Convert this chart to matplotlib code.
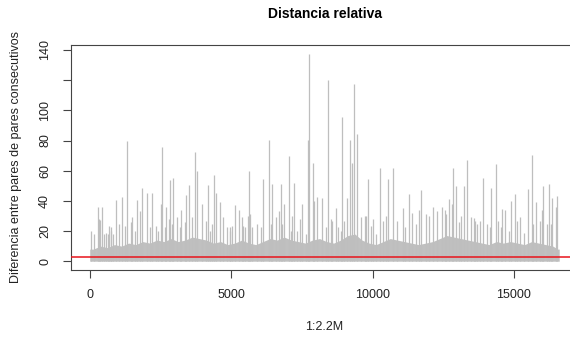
import matplotlib
matplotlib.use("Agg")
import matplotlib.pyplot as plt
import numpy as np

plt.rcParams['font.family'] = ['Liberation Sans', 'DejaVu Sans']

title = "Distancia relativa"
xlabel = "1:2.2M"
ylabel = "Diferencia entre pares de pares consecutivos"
x_ticks = [0, 5000, 10000, 15000]
y_ticks = [0, 20, 40, 60, 80, 100, 120, 140]
y_tick_labels = ["0", "20", "40", "60", "80", "100", "", "140"]
n_points = 16600
ref_level = 3.0

# dense gray band (approximate solid height), one value per 250-index bin
band_start = list(range(0, 16750, 250))
band_height = [8, 10, 9, 11, 10, 12, 11, 13, 12, 14, 13, 15, 13, 14, 16, 15,
               14, 12, 13, 11, 12, 14, 12, 11, 13, 15, 14, 16, 14, 13, 12, 14,
               15, 13, 12, 14, 17, 18, 14, 12, 11, 13, 15, 14, 13, 12, 11, 12,
               13, 15, 17, 16, 15, 14, 13, 12, 11, 13, 12, 13, 12, 11, 13, 12,
               11, 10, 8]

# individual tall spikes
spike_idx = [47, 283, 318, 365, 449, 590, 683, 742, 767, 919, 1036, 1131, 1237,
             1318, 1508, 1672, 1767, 1862, 2038, 2191, 2332, 2509, 2544, 2697,
             2804, 2827, 2945, 3099, 3240, 3417, 3510, 3629, 3735, 3805, 3983,
             4180, 4336, 4406, 4464, 4594, 4725, 4948, 4972, 5135, 5266, 5372,
             5418, 5608, 5619, 5654, 5750, 5927, 6138, 6326, 6456, 6573, 6690,
             6761, 6867, 7033, 7163, 7233, 7340, 7421, 7517, 7634, 7716, 7763,
             7893, 7927, 8050, 8200, 8411, 8517, 8577, 8694, 8870, 8930, 9083,
             9189, 9259, 9354, 9446, 9577, 9730, 9778, 9848, 10012, 10107,
             10259, 10461, 10531, 10719, 10850, 11061, 11273, 11380, 11521,
             11627, 11721, 11874, 11991, 12122, 12287, 12440, 12546, 12688,
             12818, 12853, 12935, 13136, 13228, 13348, 13476, 13582, 13617,
             13783, 13889, 14055, 14172, 14348, 14524, 14584, 14666, 14819,
             14878, 15030, 15114, 15196, 15349, 15479, 15620, 15762, 15974,
             16019, 16175, 16246, 16352, 16493, 16539]
spike_val = [20.2, 35.6, 27.9, 27.2, 35.6, 19, 23.5, 22.4, 20.2, 40.6, 24.6, 42.8,
             23.5, 79.5, 29, 40.6, 33.4, 48.8, 45.5, 45.5, 23.5, 37.8, 75.8, 35.6,
             27.9, 54, 55.4, 29, 34, 43.7, 50.3, 29, 72.3, 59.7, 37.8,
             50.3, 24.6, 56.9, 45, 39.3, 29, 20.2, 22.4, 37.3, 34, 29,
             23.5, 30, 59.7, 31, 22.4, 24.6, 54.3, 80.6, 51, 29, 33,
             51, 37.8, 69.6, 30, 52, 20.2, 28, 37.8, 18, 80.6, 137.3,
             65.2, 40, 42.8, 42.2, 120.2, 27.9, 26.8, 35, 20.2, 95.6, 42.2,
             80.6, 65.2, 117.3, 84.4, 29, 30, 30, 54.3, 28, 18,
             62, 30, 54.3, 62, 26.8, 35, 44.4, 32, 24.6,
             34, 47.2, 31, 30, 35.6, 33.4, 35.6, 34, 41,
             37.8, 62, 49.8, 30, 49.8, 67, 29, 28.6, 26.8,
             26.8, 55.4, 24.6, 48.8, 64.6, 22.4, 34.5, 34, 20,
             40, 44.4, 26.8, 29, 19, 47.7, 70.3, 39.3, 34,
             49.8, 24.6, 51, 42, 35.6, 43.2]

# shorter spikes rising just above the band
minor_idx = [153, 506, 660, 825, 1449, 1602, 2120, 2427, 2662, 2898, 3181, 3370,
             4100, 4241, 4866, 5043, 5489, 6043, 6397, 6785, 7103, 8365, 8789,
             8987, 9931, 10365, 11143, 12606, 13052, 13700, 14136, 14443, 15667,
             15903, 16292]
minor_val = [17.9, 18, 17.9, 18, 25.7, 20.2, 22.4, 20.2, 22.4, 24.6, 22.4, 25.7,
             26.8, 20.2, 22.4, 23.5, 22.4, 22.4, 24.6, 24.6, 20.2, 22.4, 22.4,
             26.8, 23.5, 26.8, 22.4, 31, 25.7, 24.6, 22.4, 26.8, 24.6,
             26.8, 24.6]

W, H = 570, 337
fig = plt.figure(figsize=(W / 100, H / 100), dpi=100)
ax = fig.add_axes([71 / W, 1 - 269.5 / H, (578 - 71) / W, (269.5 - 45) / H])

gray = '#C0C0C0'
centers = [s + min(250, n_points - s) / 2 for s in band_start]
bx = [0] + centers + [n_points]
by = [band_height[0]] + band_height + [band_height[-1]]
ax.fill_between(bx, 0, by, color=gray, linewidth=0, zorder=1)
ax.vlines(minor_idx, 0, minor_val, colors='#BEBEBE', linewidth=0.9, zorder=2)
ax.vlines(spike_idx, 0, spike_val, colors='#BEBEBE', linewidth=0.9, zorder=2)
ax.axhline(ref_level, color='#E8141B', linewidth=1.1, zorder=3)

ax.set_xlim(-663, 17264)
ax.set_ylim(-5.5, 143.3)
ax.set_xticks(x_ticks)
ax.set_xticklabels([str(v) for v in x_ticks])
ax.set_yticks(y_ticks)
ax.set_yticklabels(y_tick_labels, rotation=90, va='center')

for s in ax.spines.values():
    s.set_color('#444444')
    s.set_linewidth(0.8)
ax.tick_params(axis='both', length=5.8, width=0.8, color='#444444',
               labelsize=9, pad=8.5, labelcolor='#222222')

ax.set_title(title, fontsize=10, fontweight='bold', pad=0, y=1.0)
ax.title.set_position((0.5, 1 + (45 - 14) / (269.5 - 45)))
ax.title.set_va('center')
fig.text((71 + 578) / 2 / W, 1 - 327 / H, xlabel, ha='center', va='center',
         fontsize=9, color='#222222')
fig.text(16 / W, 1 - 157 / H, ylabel, ha='center', va='center', rotation=90,
         fontsize=9, color='#222222')

fig.savefig("out.png", dpi=100)
